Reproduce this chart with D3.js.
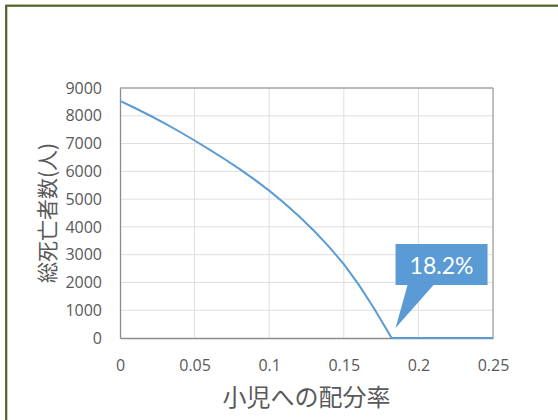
<!DOCTYPE html>
<html>
<head>
<meta charset="utf-8">
<script src="https://cdn.jsdelivr.net/npm/d3@7"></script>
<style>
  html, body { margin: 0; padding: 0; background: #ffffff; }
  svg { display: block; }
</style>
</head>
<body>
<svg id="chart" width="558" height="420"></svg>
<script>
// Share of allocation to children (x) and total deaths (y)
const shares = [0, 0.01, 0.02, 0.03, 0.04, 0.05, 0.06, 0.07, 0.08, 0.09,
                0.10, 0.11, 0.12, 0.13, 0.14, 0.15, 0.16, 0.17, 0.18, 0.182,
                0.19, 0.20, 0.21, 0.22, 0.23, 0.24, 0.25];
const deaths = [8540, 8280, 8010, 7725, 7425, 7110, 6785, 6445, 6090, 5710,
                5305, 4860, 4380, 3860, 3290, 2660, 1920, 1090, 190, 0,
                0, 0, 0, 0, 0, 0, 0];
const xTicks = [0, 0.05, 0.1, 0.15, 0.2, 0.25];
const xTickLabels = ["0", "0.05", "0.1", "0.15", "0.2", "0.25"];
const yTicks = [0, 1000, 2000, 3000, 4000, 5000, 6000, 7000, 8000, 9000];
const xTitle = "小児への配分率";
const yTitle = "総死亡者数(人)";
const zeroShare = 0.182;   // share at which deaths reach zero

const svg = d3.select("#chart");
const plot = { left: 120, right: 493, top: 88, bottom: 338 };
const textGray = "#595959";
const numFont = "'Open Sans', 'Segoe UI', sans-serif";
const cjkFont = "'Noto Sans CJK JP', sans-serif";

// outer frame
svg.append("rect")
  .attr("x", 6.2).attr("y", 5.7)
  .attr("width", 600).attr("height", 500)
  .attr("fill", "none")
  .attr("stroke", "#4f6228")
  .attr("stroke-width", 2.2);

const x = d3.scaleLinear().domain([0, 0.25]).range([plot.left, plot.right]);
const y = d3.scaleLinear().domain([0, 9000]).range([plot.bottom, plot.top]);

// gridlines
const grid = svg.append("g");
grid.selectAll("line.h").data(yTicks.slice(1)).join("line")
  .attr("x1", plot.left).attr("x2", plot.right)
  .attr("y1", d => y(d)).attr("y2", d => y(d))
  .attr("stroke", "#dedede").attr("stroke-width", 1);
grid.selectAll("line.v").data(xTicks.slice(1)).join("line")
  .attr("y1", plot.top).attr("y2", plot.bottom)
  .attr("x1", d => x(d)).attr("x2", d => x(d))
  .attr("stroke", "#dedede").attr("stroke-width", 1);

// plot frame (top/right) and axes (left/bottom)
svg.append("line")
  .attr("x1", plot.left).attr("x2", plot.right)
  .attr("y1", plot.top).attr("y2", plot.top)
  .attr("stroke", "#a6a6a6").attr("stroke-width", 1.3);
svg.append("line")
  .attr("x1", plot.right).attr("x2", plot.right)
  .attr("y1", plot.top).attr("y2", plot.bottom)
  .attr("stroke", "#a6a6a6").attr("stroke-width", 1.3);

const xAxis = d3.axisBottom(x).tickValues(xTicks)
  .tickFormat((d, i) => xTickLabels[i]).tickSize(0).tickPadding(22);
const gx = svg.append("g").attr("transform", `translate(0,${plot.bottom})`).call(xAxis);
gx.select(".domain").attr("stroke", "#8c8c8c").attr("stroke-width", 1.3);
gx.selectAll("text").attr("fill", textGray)
  .style("font-family", numFont).style("font-size", "16px");

const yAxis = d3.axisLeft(y).tickValues(yTicks)
  .tickFormat(d3.format("d")).tickSize(0).tickPadding(18);
const gy = svg.append("g").attr("transform", `translate(${plot.left},0)`).call(yAxis);
gy.select(".domain").attr("stroke", "#8c8c8c").attr("stroke-width", 1.3);
gy.selectAll("text").attr("fill", textGray)
  .style("font-family", numFont).style("font-size", "16px");

// data line
const line = d3.line()
  .x((d, i) => x(shares[i]))
  .y(d => y(d));
svg.append("path")
  .datum(deaths)
  .attr("d", line)
  .attr("fill", "none")
  .attr("stroke", "#5b9bd5")
  .attr("stroke-width", 2)
  .attr("stroke-linejoin", "round");

// axis titles
svg.append("text")
  .attr("x", (plot.left + plot.right) / 2)
  .attr("y", 406)
  .attr("text-anchor", "middle")
  .attr("fill", textGray)
  .style("font-family", cjkFont).style("font-size", "24px")
  .text(xTitle);

svg.append("text")
  .attr("transform", `translate(55,${(plot.top + plot.bottom) / 2}) rotate(-90)`)
  .attr("text-anchor", "middle")
  .attr("fill", textGray)
  .style("font-family", cjkFont).style("font-size", "21px")
  .text(yTitle);

// callout marking the zero crossing
const tipX = x(zeroShare) + 4, tipY = y(0) - 10;
const box = { x0: tipX, x1: tipX + 92, y0: tipY - 84, y1: tipY - 43 };
const callout = d3.path();
callout.moveTo(box.x0, box.y0);
callout.lineTo(box.x1, box.y0);
callout.lineTo(box.x1, box.y1);
callout.lineTo(tipX + 38, box.y1);
callout.lineTo(tipX, tipY);
callout.lineTo(tipX + 12, box.y1);
callout.lineTo(box.x0, box.y1);
callout.closePath();
svg.append("path").attr("d", callout.toString()).attr("fill", "#5b9bd5");

svg.append("text")
  .attr("x", (box.x0 + box.x1) / 2)
  .attr("y", box.y1 - 11)
  .attr("text-anchor", "middle")
  .attr("fill", "#ffffff")
  .style("font-family", "Lato, 'Open Sans', sans-serif")
  .style("font-size", "23px")
  .text(`${(zeroShare * 100).toFixed(1)}%`);
</script>
</body>
</html>
